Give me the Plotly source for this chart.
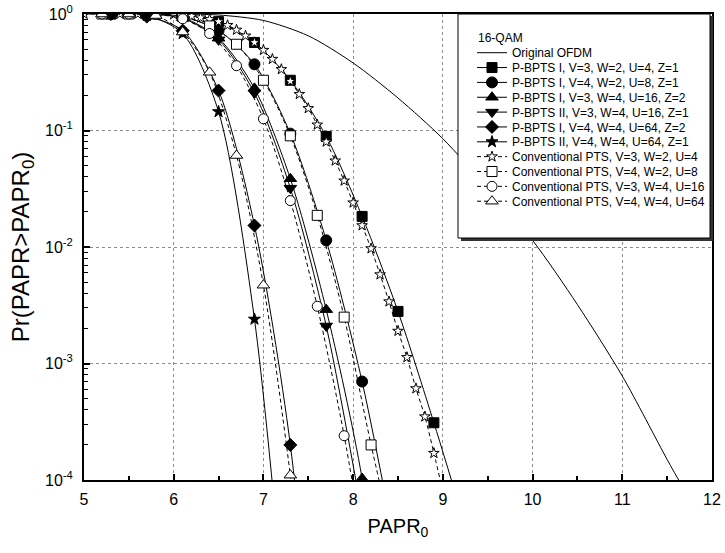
import plotly.graph_objects as go

FONT = "Liberation Sans, Arial, sans-serif"

# ---------------- data ----------------
ofdm_x = [5, 5.5, 6, 6.5, 7, 7.5, 8, 8.5, 9, 9.5, 10, 10.5, 11, 11.5, 11.7]
ofdm_y = [1, 1, 1, 0.98, 0.88, 0.65, 0.38, 0.19, 0.085, 0.032, 0.0114, 0.0032, 0.00078, 0.00015, 0.00008]

a_x = [5.3, 5.7, 6.1, 6.5, 6.9, 7.3, 7.7, 8.1, 8.5, 8.9, 9.3]
a_y = [1, 1, 0.98, 0.86, 0.57, 0.27, 0.089, 0.0183, 0.0028, 0.00031, 0.00003]

b_x = [5.3, 5.7, 6.1, 6.5, 6.9, 7.3, 7.7, 8.1, 8.5]
b_y = [1, 1, 0.95, 0.72, 0.37, 0.094, 0.0114, 0.0007, 0.00002]

c_x = [5.3, 5.7, 6.1, 6.5, 6.9, 7.3, 7.7, 8.1, 8.5]
c_y = [1, 1, 0.93, 0.62, 0.23, 0.0385, 0.0029, 0.000103, 0.0000005]

d_x = [5.3, 5.7, 6.1, 6.5, 6.9, 7.3, 7.7, 8.1]
d_y = [1, 1, 0.92, 0.60, 0.21, 0.032, 0.0021, 0.00005]

e_x = [5.3, 5.7, 6.1, 6.5, 6.9, 7.3, 7.7]
e_y = [1, 0.95, 0.72, 0.22, 0.0153, 0.0002, 0.0000001]

f_x = [5.3, 5.7, 6.1, 6.5, 6.9, 7.3]
f_y = [1, 0.97, 0.68, 0.145, 0.0024, 0.000002]

g_x = [5.0, 5.2, 5.4, 5.6, 5.8, 6.0, 6.1, 6.2, 6.3, 6.4, 6.5, 6.6, 6.7, 6.8, 6.9, 7.0,
       7.1, 7.2, 7.3, 7.4, 7.5, 7.6, 7.7, 7.8, 7.9, 8.0, 8.1, 8.2, 8.3, 8.4, 8.5,
       8.6, 8.7, 8.8, 8.9, 9.0]
g_y = [1, 1, 1, 1, 1, 0.99, 0.98, 0.96, 0.93, 0.90, 0.86, 0.80, 0.73, 0.65, 0.57, 0.49,
       0.41, 0.335, 0.265, 0.205, 0.155, 0.112, 0.080, 0.055, 0.037, 0.024, 0.0153, 0.0097,
       0.0058, 0.0034, 0.0019, 0.00113, 0.00061, 0.00035, 0.00017, 0.00008]

h_x = [5.2, 5.5, 5.8, 6.1, 6.4, 6.7, 7.0, 7.3, 7.6, 7.9, 8.2, 8.5]
h_y = [1, 1, 1, 0.95, 0.79, 0.55, 0.27, 0.09, 0.0187, 0.0025, 0.0002, 0.00002]

i_x = [5.2, 5.5, 5.8, 6.1, 6.4, 6.7, 7.0, 7.3, 7.6, 7.9, 8.2]
i_y = [1, 1, 0.99, 0.91, 0.68, 0.36, 0.126, 0.025, 0.0031, 0.00024, 0.00001]

j_x = [5.2, 5.5, 5.8, 6.1, 6.4, 6.7, 7.0, 7.3, 7.6]
j_y = [1, 1, 0.97, 0.70, 0.316, 0.061, 0.0047, 0.00011, 0.000001]

names = [
    "Original OFDM",
    "P-BPTS I, V=3, W=2, U=4, Z=1",
    "P-BPTS I, V=4, W=2, U=8, Z=1",
    "P-BPTS I, V=3, W=4, U=16, Z=2",
    "P-BPTS II, V=3, W=4, U=16, Z=1",
    "P-BPTS I, V=4, W=4, U=64, Z=2",
    "P-BPTS II, V=4, W=4, U=64, Z=1",
    "Conventional PTS, V=3, W=2, U=4",
    "Conventional PTS, V=4, W=2, U=8",
    "Conventional PTS, V=3, W=4, U=16",
    "Conventional PTS, V=4, W=4, U=64",
]
series_x = [ofdm_x, a_x, b_x, c_x, d_x, e_x, f_x, g_x, h_x, i_x, j_x]
series_y = [ofdm_y, a_y, b_y, c_y, d_y, e_y, f_y, g_y, h_y, i_y, j_y]

x_tickvals = [5, 6, 7, 8, 9, 10, 11, 12]
y_tickvals = [1, 0.1, 0.01, 0.001, 0.0001]
y_ticktext = ["10<sup>0</sup>", "10<sup>-1</sup>", "10<sup>-2</sup>", "10<sup>-3</sup>", "10<sup>-4</sup>"]
legend_title = "16-QAM"

# ---------------- styles ----------------
symbols = [None, "square", "circle", "triangle-up", "triangle-down", "diamond", "star",
           "star", "square", "circle", "triangle-up"]
fills = [None, "black", "black", "black", "black", "black", "black",
         "white", "white", "white", "white"]
sizes = [0, 10, 11, 11, 11, 10, 9, 8, 10, 10, 11]
dashes = ["solid"] * 7 + ["4px,3px"] * 4

# layout geometry (pixels of the 725x553 page)
ML, MR, MT, MB = 84, 13, 14, 73
W, H = 725, 553
PW, PH = W - ML - MR, H - MT - MB


def px_to_paper_x(px):
    return (px - ML) / PW


def px_to_paper_y(py):
    return (H - MB - py) / PH


fig = go.Figure()
for k, (nm, xs, ys) in enumerate(zip(names, series_x, series_y)):
    leg = "legend" if k == 0 else f"legend{k + 1}"
    if symbols[k] is None:
        fig.add_trace(go.Scatter(x=xs, y=ys, name=nm, mode="lines",
                                 line=dict(color="black", width=1, shape="spline", smoothing=0.8),
                                 legend=leg))
    else:
        fig.add_trace(go.Scatter(
            x=xs, y=ys, name=nm, mode="lines+markers",
            line=dict(color="black", width=1, dash=dashes[k], shape="spline", smoothing=0.8),
            marker=dict(symbol=symbols[k], size=sizes[k], color=fills[k],
                        line=dict(color="black", width=1)),
            legend=leg))

# legend box (frame + shadow)
bx0, by0, bx1, by1 = 458, 14, 710, 238
fig.add_shape(type="rect", xref="paper", yref="paper", layer="above",
              x0=px_to_paper_x(bx0 + 3), x1=px_to_paper_x(bx1 + 3),
              y0=px_to_paper_y(by1 + 3), y1=px_to_paper_y(by0 + 2),
              fillcolor="#333333", line=dict(width=0))
fig.add_shape(type="rect", xref="paper", yref="paper", layer="above",
              x0=px_to_paper_x(bx0), x1=px_to_paper_x(bx1),
              y0=px_to_paper_y(by1), y1=px_to_paper_y(by0),
              fillcolor="white", line=dict(color="black", width=1))

fig.add_annotation(text=legend_title, xref="paper", yref="paper",
                   x=px_to_paper_x(476), y=px_to_paper_y(38.3), xanchor="left", yanchor="middle",
                   showarrow=False, font=dict(family=FONT, size=12, color="black"))

layout_legends = {}
for k in range(len(names)):
    key = "legend" if k == 0 else f"legend{k + 1}"
    layout_legends[key] = dict(
        x=px_to_paper_x(472), xanchor="left",
        y=px_to_paper_y(52.7 + 14.85 * k), yanchor="middle",
        bgcolor="rgba(0,0,0,0)", borderwidth=0,
        font=dict(family=FONT, size=12, color="black"),
    )

fig.update_layout(
    width=W, height=H,
    margin=dict(l=ML, r=MR, t=MT, b=MB, autoexpand=False),
    paper_bgcolor="white", plot_bgcolor="white",
    font=dict(family=FONT, color="black"),
    showlegend=True,
    **layout_legends,
)

fig.update_xaxes(
    range=[5, 12], tickvals=x_tickvals, ticks="inside", ticklen=6, tickwidth=1.5,
    tickcolor="black", showline=True, linecolor="black", linewidth=2, mirror=True,
    showgrid=True, gridcolor="#8c8c8c", griddash="dot", gridwidth=1, zeroline=False,
    tickfont=dict(family=FONT, size=16), ticklabelstandoff=4, automargin=False,
    minor=dict(dtick=0.5, ticks="inside", ticklen=4, tickwidth=1.5, tickcolor="black", showgrid=False),
    title=dict(text="PAPR<sub>0</sub>", font=dict(family=FONT, size=20), standoff=12),
)
fig.update_yaxes(
    type="log", range=[-4, 0], tickvals=y_tickvals, ticktext=y_ticktext,
    ticks="inside", ticklen=6, tickwidth=1.5, tickcolor="black",
    showline=True, linecolor="black", linewidth=2, mirror=True,
    showgrid=True, gridcolor="#8c8c8c", griddash="dot", gridwidth=1, zeroline=False,
    tickfont=dict(family=FONT, size=16), ticklabelstandoff=6, automargin=False,
    minor=dict(dtick="D1", ticks="inside", ticklen=4, tickwidth=1, tickcolor="black", showgrid=False),
    title=dict(text="Pr(PAPR>PAPR<sub>0</sub>)", font=dict(family=FONT, size=24), standoff=9),
)

fig.write_html("out.html")
